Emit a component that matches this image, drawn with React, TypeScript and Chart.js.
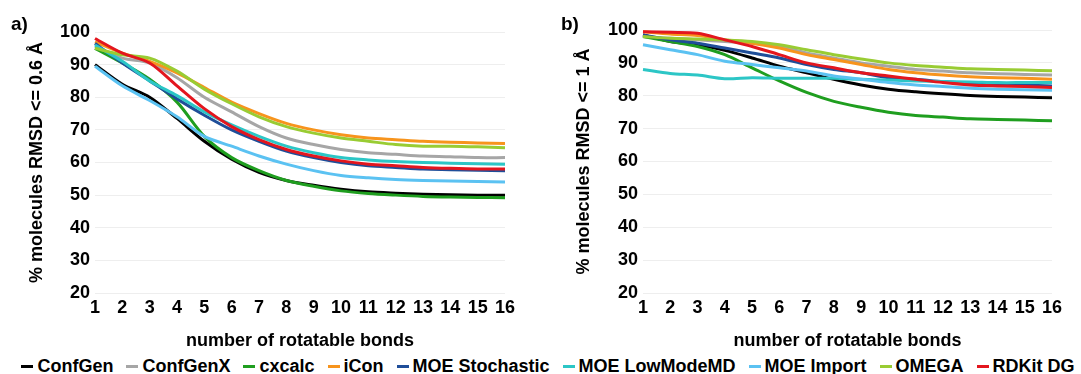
import React, { useEffect, useRef } from "react";
import { Chart, registerables } from "chart.js";

Chart.register(...registerables);

// ---------- data ----------
const rotatableBonds = ["1", "2", "3", "4", "5", "6", "7", "8", "9", "10", "11", "12", "13", "14", "15", "16"];
const yMin = 20;
const yMax = 100;
const yStep = 10;

const seriesNames = ["ConfGen", "ConfGenX", "cxcalc", "iCon", "MOE Stochastic", "MOE LowModeMD", "MOE Import", "OMEGA", "RDKit DG"];
const seriesColors = ["#000000", "#A6A6A6", "#1F9E1F", "#F7941D", "#1F4E99", "#2CC6C6", "#5BC2F2", "#99CC33", "#E3161E"];

// panel a) % molecules RMSD <= 0.6 Å
const a_ConfGen = [90, 84, 80, 73.5, 66.5, 61, 57, 54.5, 53, 51.8, 51, 50.6, 50.3, 50.1, 50, 50];
const a_ConfGenX = [95.5, 92, 90.5, 86, 80, 75.5, 71, 67.5, 65.5, 64, 63, 62.5, 62, 61.8, 61.5, 61.5];
const a_cxcalc = [95, 90.5, 85.5, 78.5, 68, 61.5, 57.5, 54.5, 52.7, 51.3, 50.5, 50, 49.6, 49.4, 49.3, 49.2];
const a_iCon = [97, 93.5, 91, 87.5, 83, 78.5, 75, 72, 70, 68.5, 67.5, 67, 66.5, 66.2, 66, 65.8];
const a_MOEStochastic = [96.5, 90.5, 85, 79.5, 74.5, 70, 66.5, 63.5, 61.5, 60, 59, 58.5, 58, 57.8, 57.6, 57.5];
const a_MOELowModeMD = [96, 91, 85, 80.5, 75.5, 71.5, 68, 65, 63, 61.5, 60.8, 60.3, 60, 59.8, 59.6, 59.5];
const a_MOEImport = [89.5, 83.5, 79, 74, 68, 65, 62, 59.5, 57.5, 56, 55.3, 54.8, 54.5, 54.3, 54.2, 54];
const a_OMEGA = [95, 93, 92, 88, 82.5, 78, 74, 71, 69, 67.5, 66.5, 65.5, 65, 65, 64.8, 64.5];
const a_RDKitDG = [98, 93.5, 90.5, 83.5, 76.5, 71, 67, 64, 62, 60.5, 59.5, 59, 58.5, 58.2, 58, 58];

// panel b) % molecules RMSD <= 1 Å
const b_ConfGen = [98.5, 96.5, 95.5, 93.8, 91.5, 89, 87, 85, 83.3, 82, 81.2, 80.6, 80.1, 79.8, 79.6, 79.4];
const b_ConfGenX = [98, 97.5, 97, 96.5, 96, 95, 93, 91.5, 90, 89, 88, 87.5, 87, 86.7, 86.5, 86.3];
const b_cxcalc = [98, 96.5, 95, 92.5, 88.5, 84.5, 81, 78.3, 76.5, 75, 74, 73.5, 73, 72.8, 72.6, 72.4];
const b_iCon = [99.5, 98.8, 98.3, 97, 96, 94.5, 92.5, 91, 89.5, 88, 87, 86.3, 85.8, 85.5, 85.3, 85];
const b_MOEStochastic = [98.5, 97, 96, 94.5, 93, 91.5, 89.5, 88, 87, 85.5, 85, 84.3, 83.8, 83.5, 83.3, 83];
const b_MOELowModeMD = [88, 86.8, 86.3, 85.2, 85.5, 85.3, 85.3, 85.3, 85, 84.8, 84.5, 84.3, 84.2, 84, 84, 84];
const b_MOEImport = [95.5, 94, 92.5, 90.5, 89.5, 88.5, 87.5, 86, 85, 84, 83.3, 82.8, 82.3, 82, 81.8, 81.7];
const b_OMEGA = [98, 97.5, 97.3, 97, 96.5, 95.5, 94, 92.5, 91.2, 90, 89.2, 88.7, 88.2, 88, 87.8, 87.6];
const b_RDKitDG = [99.5, 99.3, 99, 97, 95, 92.5, 90, 88.5, 87, 86, 85, 84, 83.3, 83, 82.8, 82.5];

const panelA = [a_ConfGen, a_ConfGenX, a_cxcalc, a_iCon, a_MOEStochastic, a_MOELowModeMD, a_MOEImport, a_OMEGA, a_RDKitDG];
const panelB = [b_ConfGen, b_ConfGenX, b_cxcalc, b_iCon, b_MOEStochastic, b_MOELowModeMD, b_MOEImport, b_OMEGA, b_RDKitDG];

const FONT = "'Liberation Sans', Arial, Helvetica, sans-serif";
const CANVAS_H = 352;

type PanelProps = {
  series: number[][];
  yTitle: string;
  width: number;
  padLeft: number;
  padTop: number;
  padRight: number;
  yAxisWidth: number;
};

function Panel({ series, yTitle, width, padLeft, padTop, padRight, yAxisWidth }: PanelProps) {
  const ref = useRef<HTMLCanvasElement | null>(null);
  useEffect(() => {
    if (!ref.current) return;
    const chart = new Chart(ref.current, {
      type: "line",
      data: {
        labels: rotatableBonds,
        datasets: series.map((vals, i) => ({
          label: seriesNames[i],
          data: vals,
          borderColor: seriesColors[i],
          backgroundColor: seriesColors[i],
          borderWidth: 3,
          pointRadius: 0,
          tension: 0.3,
          fill: false,
          order: series.length - i,
        })),
      },
      options: {
        responsive: false,
        animation: false,
        devicePixelRatio: 1,
        layout: { padding: { left: padLeft, top: padTop, right: padRight, bottom: 0 } },
        plugins: { legend: { display: false }, tooltip: { enabled: false } },
        scales: {
          x: {
            type: "category",
            offset: false,
            grid: { display: false, drawTicks: false },
            border: { display: false },
            ticks: {
              color: "#000",
              font: { family: FONT, size: 18, weight: "bold" },
              padding: 4,
              autoSkip: false,
              maxRotation: 0,
            },
            title: {
              display: true,
              text: "number of rotatable bonds",
              color: "#000",
              font: { family: FONT, size: 18, weight: "bold" },
              padding: 0,
            },
            afterFit: (s: any) => {
              s.height = 59;
            },
          },
          y: {
            min: yMin,
            max: yMax,
            grid: { color: "#EEEEEE", lineWidth: 1, drawTicks: false },
            border: { display: false },
            ticks: {
              stepSize: yStep,
              color: "#000",
              font: { family: FONT, size: 18, weight: "bold" },
              padding: 5,
            },
            title: {
              display: true,
              text: yTitle,
              color: "#000",
              font: { family: FONT, size: 18, weight: "bold" },
              padding: 0,
            },
            afterFit: (s: any) => {
              s.width = yAxisWidth;
            },
          },
        },
      },
    } as any);
    return () => chart.destroy();
  }, []);
  return <canvas ref={ref} width={width} height={CANVAS_H} style={{ width, height: CANVAS_H, display: "block" }} />;
}

export default function App() {
  return (
    <div
      style={{
        position: "absolute",
        left: 0,
        top: 0,
        width: 1081,
        height: 374,
        background: "#fff",
        overflow: "hidden",
        fontFamily: FONT,
      }}
    >
      <div style={{ position: "absolute", left: 0, top: 0 }}>
        <Panel series={panelA} yTitle="% molecules RMSD <= 0.6 Å" width={540} padLeft={26} padTop={32} padRight={35} yAxisWidth={69} />
      </div>
      <div style={{ position: "absolute", left: 540, top: 0 }}>
        <Panel series={panelB} yTitle="% molecules RMSD <= 1 Å" width={541} padLeft={33} padTop={30} padRight={29} yAxisWidth={70} />
      </div>
      <div style={{ position: "absolute", left: 11, top: 12, fontSize: 19, fontWeight: "bold", lineHeight: "24px" }}>a)</div>
      <div style={{ position: "absolute", left: 561, top: 12, fontSize: 19, fontWeight: "bold", lineHeight: "24px" }}>b)</div>
      <div
        style={{
          position: "absolute",
          left: 0,
          top: 355,
          width: 1096,
          display: "flex",
          justifyContent: "center",
          gap: 13,
          fontSize: 18,
          fontWeight: "bold",
          lineHeight: "22px",
          whiteSpace: "nowrap",
        }}
      >
        {seriesNames.map((n, i) => (
          <div key={n} style={{ display: "flex", alignItems: "center" }}>
            <span style={{ display: "inline-block", width: 12, height: 3, background: seriesColors[i], marginRight: 4 }} />
            <span>{n}</span>
          </div>
        ))}
      </div>
    </div>
  );
}
